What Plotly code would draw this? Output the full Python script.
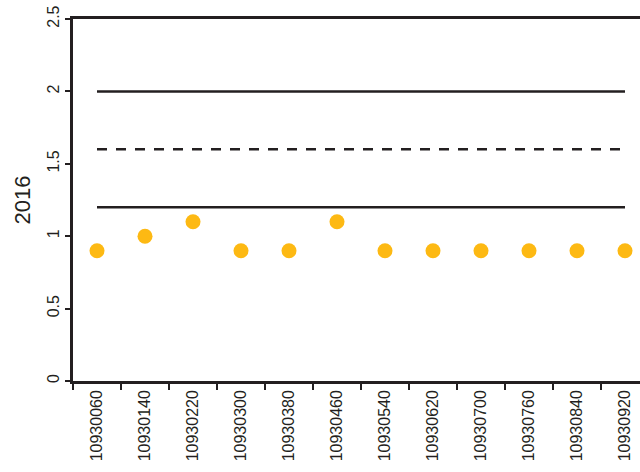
import plotly.graph_objects as go

categories = ["10930060", "10930140", "10930220", "10930300", "10930380", "10930460",
              "10930540", "10930620", "10930700", "10930760", "10930840", "10930920"]
values = [0.9, 1.0, 1.1, 0.9, 0.9, 1.1, 0.9, 0.9, 0.9, 0.9, 0.9, 0.9]
upper_limit = [2.0] * len(categories)
mid_limit = [1.6] * len(categories)
lower_limit = [1.2] * len(categories)
y_ticks = [0, 0.5, 1, 1.5, 2, 2.5]
y_tick_labels = ["0", "0.5", "1", "1.5", "2", "2.5"]

line_color = "#231F20"
fig = go.Figure()
fig.add_trace(go.Scatter(x=categories, y=upper_limit, mode="lines",
                         line=dict(color=line_color, width=2.5), hoverinfo="skip"))
fig.add_trace(go.Scatter(x=categories, y=mid_limit, mode="lines",
                         line=dict(color=line_color, width=2.5, dash="10px,9px"), hoverinfo="skip"))
fig.add_trace(go.Scatter(x=categories, y=lower_limit, mode="lines",
                         line=dict(color=line_color, width=2.5), hoverinfo="skip"))
fig.add_trace(go.Scatter(x=categories, y=values, mode="markers",
                         marker=dict(color="#FDB913", size=15), cliponaxis=False))

fig.update_layout(
    width=640, height=472,
    margin=dict(l=73, r=0, t=19, b=91),
    paper_bgcolor="white", plot_bgcolor="white",
    showlegend=False,
    font=dict(family="Liberation Sans, Arial, sans-serif", color="#231F20"),
)
fig.update_xaxes(
    type="category", range=[-0.5, 11.3125], automargin=False,
    showgrid=False, showline=True, linecolor=line_color, linewidth=2.5, mirror=True,
    ticks="outside", tickson="boundaries", ticklen=6, tickwidth=2, tickcolor=line_color,
    tickangle=-90, tickfont=dict(size=16, color="#231F20"),
)
fig.update_yaxes(
    range=[0, 2.5], tickvals=y_ticks, ticktext=y_tick_labels, automargin=False,
    showgrid=False, zeroline=False, showline=True, linecolor=line_color, linewidth=2.5,
    ticks="outside", ticklen=5, tickwidth=2, tickcolor=line_color,
    tickangle=-90, tickfont=dict(size=16, color="#231F20"),
    title=dict(text="2016", font=dict(size=22, color="#231F20"), standoff=9),
)
fig.write_html("out.html", config={"displayModeBar": False},
               post_script="document.body.style.margin='0';document.body.style.overflow='hidden';")
